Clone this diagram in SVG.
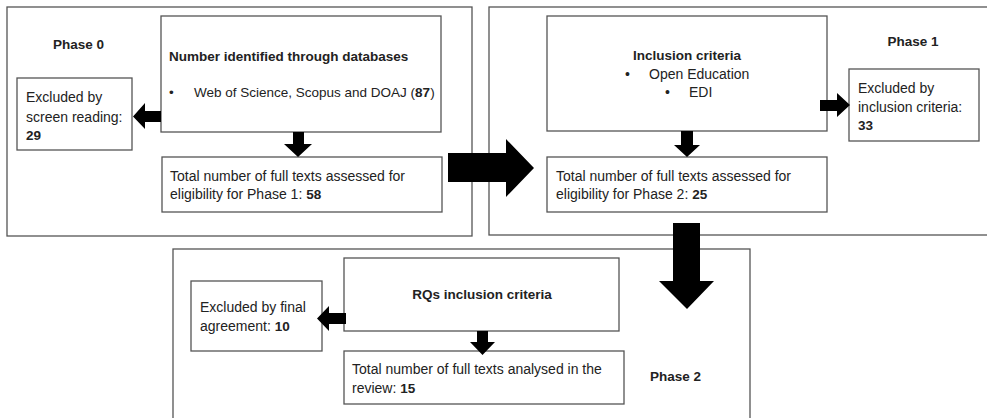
<svg xmlns="http://www.w3.org/2000/svg" width="987" height="418" viewBox="0 0 987 418">
<style>
.phase{fill:none;stroke:#555;stroke-width:1.3}
.box{fill:#fff;stroke:#555;stroke-width:1.3}
text{font-family:"Liberation Sans",Arial,sans-serif;font-size:14px;fill:#222}
.b{font-weight:bold;font-size:13.5px}
.s{font-size:13.5px}
.c{text-anchor:middle}
.arrow{fill:#000}
</style>
<rect width="987" height="418" fill="#fff"/>
<g id="phase0">
<rect class="phase" x="7" y="7" width="465" height="229"/>
<text class="b" x="53" y="49">Phase 0</text>
</g>
<g id="phase1">
<rect class="phase" x="489" y="7" width="510" height="228"/>
<text class="b c" x="913" y="46">Phase 1</text>
</g>
<g id="phase2">
<rect class="phase" x="173" y="249" width="577" height="180"/>
<text class="b" x="650" y="381">Phase 2</text>
</g>
<g id="identified">
<rect class="box" x="161" y="16" width="280" height="116"/>
<text class="b" x="169" y="61">Number identified through databases</text>
<text class="s" x="169" y="97">•</text>
<text class="s" x="194" y="97">Web of Science, Scopus and DOAJ (<tspan class="b">87</tspan>)</text>
</g>
<g id="excluded-screen">
<rect class="box" x="17" y="78" width="115" height="72"/>
<text x="26" y="102">Excluded by</text>
<text x="26" y="122">screen reading:</text>
<text class="b" x="26" y="140">29</text>
</g>
<g id="total-p1">
<rect class="box" x="162" y="157" width="280" height="55"/>
<text x="170" y="181">Total number of full texts assessed for</text>
<text x="170" y="199">eligibility for Phase 1: <tspan class="b">58</tspan></text>
</g>
<g id="inclusion">
<rect class="box" x="547" y="16" width="280" height="115"/>
<text class="b c" x="687" y="60">Inclusion criteria</text>
<text x="625" y="79">•</text>
<text x="649" y="79">Open Education</text>
<text x="665" y="97">•</text>
<text x="689" y="97">EDI</text>
</g>
<g id="excluded-inclusion">
<rect class="box" x="849" y="69" width="130" height="72"/>
<text x="858" y="93">Excluded by</text>
<text x="858" y="112">inclusion criteria:</text>
<text class="b" x="858" y="130">33</text>
</g>
<g id="total-p2">
<rect class="box" x="547" y="157" width="280" height="55"/>
<text x="556" y="181">Total number of full texts assessed for</text>
<text x="556" y="199">eligibility for Phase 2: <tspan class="b">25</tspan></text>
</g>
<g id="rqs">
<rect class="box" x="344" y="258" width="275" height="73"/>
<text class="b c" x="482" y="299">RQs inclusion criteria</text>
</g>
<g id="excluded-final">
<rect class="box" x="191" y="281" width="131" height="70"/>
<text x="200" y="312">Excluded by final</text>
<text x="200" y="331">agreement: <tspan class="b">10</tspan></text>
</g>
<g id="total-final">
<rect class="box" x="344" y="351" width="280" height="53"/>
<text x="352" y="374">Total number of full texts analysed in the</text>
<text x="352" y="393">review: <tspan class="b">15</tspan></text>
</g>
<g id="connectors">
<polygon class="arrow" points="161,111 145,111 145,103 133,116.5 145,129 145,122 161,122"/>
<polygon class="arrow" points="293,132 304,132 304,144 312,144 298,157 284,144 293,144"/>
<polygon class="arrow" points="448,153 506,153 506,139 534,168 506,197 506,182 448,182"/>
<polygon class="arrow" points="820,100 837,100 837,93 850,105 837,117 837,111 820,111"/>
<polygon class="arrow" points="681,131 693,131 693,145 700,145 687,157 674,145 681,145"/>
<polygon class="arrow" points="673,223 700,223 700,281 714,281 687,309 659,281 673,281"/>
<polygon class="arrow" points="346,313 329,313 329,306 317,318.5 329,331 329,324 346,324"/>
<polygon class="arrow" points="477,331 488,331 488,342 495,342 482.5,355 470,342 477,342"/>
</g>
</svg>
